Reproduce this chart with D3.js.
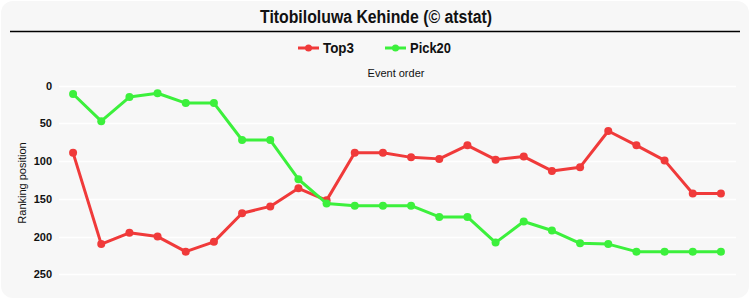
<!DOCTYPE html>
<html><head><meta charset="utf-8">
<script src="https://cdn.jsdelivr.net/npm/d3@7"></script>
<style>
html,body{margin:0;padding:0;background:#fff;}
svg{display:block;font-family:"Liberation Sans",Arial,sans-serif;}
</style></head>
<body><svg id="c" width="750" height="300"></svg>
<script>
const titleText = "Titobiloluwa Kehinde (© atstat)";
const xTitle = "Event order";
const yTitle = "Ranking position";
const events = d3.range(1, 25);
const seriesNames = ["Top3", "Pick20"];
const seriesColors = ["#f03a3a", "#3cf03c"];
const top3 = [89, 210, 195, 200, 220, 207, 169, 160, 136, 152, 89, 89, 95, 97, 79, 98, 94, 113, 108, 60, 79, 99, 143, 143];
const pick20 = [11, 47, 15, 10, 23, 23, 72, 72, 124, 156, 159, 159, 159, 174, 174, 208, 180, 192, 209, 210, 220, 220, 220, 220];
const yTicks = [0, 50, 100, 150, 200, 250];

const svg = d3.select("#c");
svg.append("rect").attr("x",1).attr("y",1).attr("width",748).attr("height",297)
  .attr("rx",12).attr("fill","#f7f7f7");
svg.append("line").attr("x1",10).attr("x2",740).attr("y1",31.5).attr("y2",31.5)
  .attr("stroke","#000").attr("stroke-width",1.5);
svg.append("text").attr("x",260).attr("y",23)
  .attr("font-size",17.5).attr("font-weight","bold").attr("fill","#111")
  .attr("textLength",232).attr("lengthAdjust","spacingAndGlyphs").text(titleText);

const x = d3.scalePoint().domain(events).range([59, 735]).padding(0.5);
const y = d3.scaleLinear().domain([0, 250]).range([85.7, 274.3]);

// gridlines
const g = svg.append("g");
g.selectAll("line.grid").data(yTicks).join("line")
  .attr("x1",59).attr("x2",736).attr("y1",d=>Math.round(y(d))+0.5).attr("y2",d=>Math.round(y(d))+0.5)
  .attr("stroke","#ffffff").attr("stroke-width",1.5);

const yAxis = d3.axisLeft(y).tickValues(yTicks).tickSize(0).tickPadding(0);
const ya = svg.append("g").attr("transform","translate(52,0)").call(yAxis);
ya.select(".domain").remove();
ya.selectAll("text").attr("font-size",11).attr("font-weight","bold").attr("fill","#111")
  .attr("font-family","\"Liberation Sans\",Arial,sans-serif");

svg.append("text").attr("transform","translate(26,183) rotate(-90)").attr("text-anchor","middle")
  .attr("font-size",11).attr("fill","#111").text(yTitle);
svg.append("text").attr("x",396).attr("y",77).attr("text-anchor","middle")
  .attr("font-size",11).attr("fill","#111").text(xTitle);

const data = [top3, pick20];
const line = d3.line().x((d,i)=>x(events[i])).y(d=>y(d));
data.forEach((vals, k) => {
  svg.append("path").datum(vals).attr("d", line).attr("fill","none")
    .attr("stroke", seriesColors[k]).attr("stroke-width",3).attr("stroke-linejoin","round");
  svg.append("g").selectAll("circle").data(vals).join("circle")
    .attr("cx",(d,i)=>x(events[i])).attr("cy",d=>y(d)).attr("r",4).attr("fill",seriesColors[k]);
});

// legend
const legendX = [298, 385];
const legendW = [31, 41];
seriesNames.forEach((n, k) => {
  const lg = svg.append("g").attr("transform",`translate(${legendX[k]},48)`);
  lg.append("line").attr("x1",0).attr("x2",21).attr("y1",0).attr("y2",0)
    .attr("stroke",seriesColors[k]).attr("stroke-width",3);
  lg.append("circle").attr("cx",10.5).attr("cy",0).attr("r",3.5).attr("fill",seriesColors[k]);
  lg.append("text").attr("x",25).attr("y",5).attr("font-size",15).attr("font-weight","bold")
    .attr("fill","#111").attr("textLength",legendW[k]).attr("lengthAdjust","spacingAndGlyphs").text(n);
});
</script></body></html>
